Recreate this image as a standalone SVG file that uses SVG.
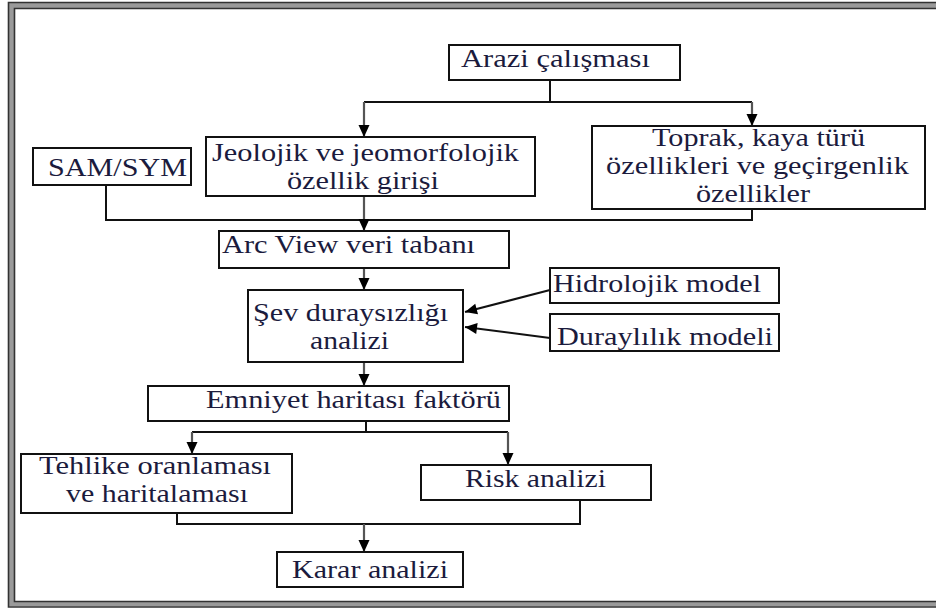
<svg xmlns="http://www.w3.org/2000/svg" width="936" height="610" viewBox="0 0 936 610">
<style>
.box{fill:#fff;stroke:#111;stroke-width:2}
.t{font-family:"Liberation Serif","Times New Roman",serif;font-size:25px;fill:#1b1b3d}
.c{fill:none;stroke:#111;stroke-width:2}
.a{fill:none;stroke:#555;stroke-width:2.2}
.fg{fill:none;stroke:#9a9a9a;stroke-width:5}
.fd{fill:none;stroke:#333;stroke-width:1.6}
</style>
<defs>
<marker id="arr" markerUnits="userSpaceOnUse" markerWidth="14" markerHeight="14" viewBox="0 0 14 14" refX="13" refY="7" orient="auto">
<path d="M1,1.5 L13,7 L1,12.5 Z" fill="#000"/>
</marker>
</defs>
<g id="frame">
<path class="fg" d="M936,5.5 H11.5 V604 H936"/>
<path class="fd" d="M936,2.5 H8.5 V607 H936"/>
<path class="fd" d="M936,8.5 H14.5 V601.5 H936"/>
</g>
<g id="connectors">
<path class="c" d="M550,80 V102 M364,102 H752"/>
<path class="a" d="M364,102 V137" marker-end="url(#arr)"/>
<path class="a" d="M752,102 V126" marker-end="url(#arr)"/>
<path class="c" d="M106,185 V220 H752 V209"/>
<path class="a" d="M364,196 V231" marker-end="url(#arr)"/>
<path class="a" d="M364,268 V290" marker-end="url(#arr)"/>
<path class="c" d="M550,290 L465,312" marker-end="url(#arr)"/>
<path class="c" d="M550,338 L465,327" marker-end="url(#arr)"/>
<path class="a" d="M364,362 V386" marker-end="url(#arr)"/>
<path class="c" d="M366,421 V432 M192,432 H508"/>
<path class="a" d="M192,432 V454" marker-end="url(#arr)"/>
<path class="a" d="M508,432 V465" marker-end="url(#arr)"/>
<path class="c" d="M177,513 V524 H580 V500"/>
<path class="a" d="M364,524 V552" marker-end="url(#arr)"/>
</g>
<g id="arazi">
<rect class="box" x="449" y="45" width="231" height="35"/>
<text class="t" font-family="'Liberation Serif', serif" x="461" y="67" textLength="189" lengthAdjust="spacingAndGlyphs">Arazi çalışması</text>
</g>
<g id="jeolojik">
<rect class="box" x="206" y="137" width="329" height="59"/>
<text class="t" font-family="'Liberation Serif', serif" x="212" y="161" textLength="307" lengthAdjust="spacingAndGlyphs">Jeolojik ve jeomorfolojik</text>
<text class="t" font-family="'Liberation Serif', serif" x="287" y="189" textLength="152" lengthAdjust="spacingAndGlyphs">özellik girişi</text>
</g>
<g id="samsym">
<rect class="box" x="33" y="148" width="158" height="37"/>
<text class="t" font-family="'Liberation Serif', serif" x="48" y="176" textLength="139" lengthAdjust="spacingAndGlyphs">SAM/SYM</text>
</g>
<g id="toprak">
<rect class="box" x="592" y="126" width="333" height="83"/>
<text class="t" font-family="'Liberation Serif', serif" x="652" y="146" textLength="213" lengthAdjust="spacingAndGlyphs">Toprak, kaya türü</text>
<text class="t" font-family="'Liberation Serif', serif" x="606" y="174" textLength="303" lengthAdjust="spacingAndGlyphs">özellikleri ve geçirgenlik</text>
<text class="t" font-family="'Liberation Serif', serif" x="696" y="202" textLength="114" lengthAdjust="spacingAndGlyphs">özellikler</text>
</g>
<g id="arcview">
<rect class="box" x="219" y="231" width="290" height="37"/>
<text class="t" font-family="'Liberation Serif', serif" x="222" y="253" textLength="253" lengthAdjust="spacingAndGlyphs">Arc View veri tabanı</text>
</g>
<g id="sev">
<rect class="box" x="248" y="290" width="215" height="72"/>
<text class="t" font-family="'Liberation Serif', serif" x="253" y="321" textLength="195" lengthAdjust="spacingAndGlyphs">Şev duraysızlığı</text>
<text class="t" font-family="'Liberation Serif', serif" x="310" y="349" textLength="79" lengthAdjust="spacingAndGlyphs">analizi</text>
</g>
<g id="hidrolojik">
<rect class="box" x="550" y="268" width="229" height="35"/>
<text class="t" font-family="'Liberation Serif', serif" x="553" y="292" textLength="208" lengthAdjust="spacingAndGlyphs">Hidrolojik model</text>
</g>
<g id="duraylilik">
<rect class="box" x="550" y="314" width="229" height="37"/>
<text class="t" font-family="'Liberation Serif', serif" x="557" y="345" textLength="216" lengthAdjust="spacingAndGlyphs">Duraylılık modeli</text>
</g>
<g id="emniyet">
<rect class="box" x="148" y="386" width="361" height="35"/>
<text class="t" font-family="'Liberation Serif', serif" x="206" y="408" textLength="295" lengthAdjust="spacingAndGlyphs">Emniyet haritası faktörü</text>
</g>
<g id="tehlike">
<rect class="box" x="21" y="454" width="271" height="59"/>
<text class="t" font-family="'Liberation Serif', serif" x="39" y="474" textLength="232" lengthAdjust="spacingAndGlyphs">Tehlike oranlaması</text>
<text class="t" font-family="'Liberation Serif', serif" x="66" y="502" textLength="182" lengthAdjust="spacingAndGlyphs">ve haritalaması</text>
</g>
<g id="risk">
<rect class="box" x="421" y="465" width="230" height="35"/>
<text class="t" font-family="'Liberation Serif', serif" x="465" y="487" textLength="141" lengthAdjust="spacingAndGlyphs">Risk analizi</text>
</g>
<g id="karar">
<rect class="box" x="277" y="552" width="186" height="35"/>
<text class="t" font-family="'Liberation Serif', serif" x="292" y="578" textLength="156" lengthAdjust="spacingAndGlyphs">Karar analizi</text>
</g>
</svg>
